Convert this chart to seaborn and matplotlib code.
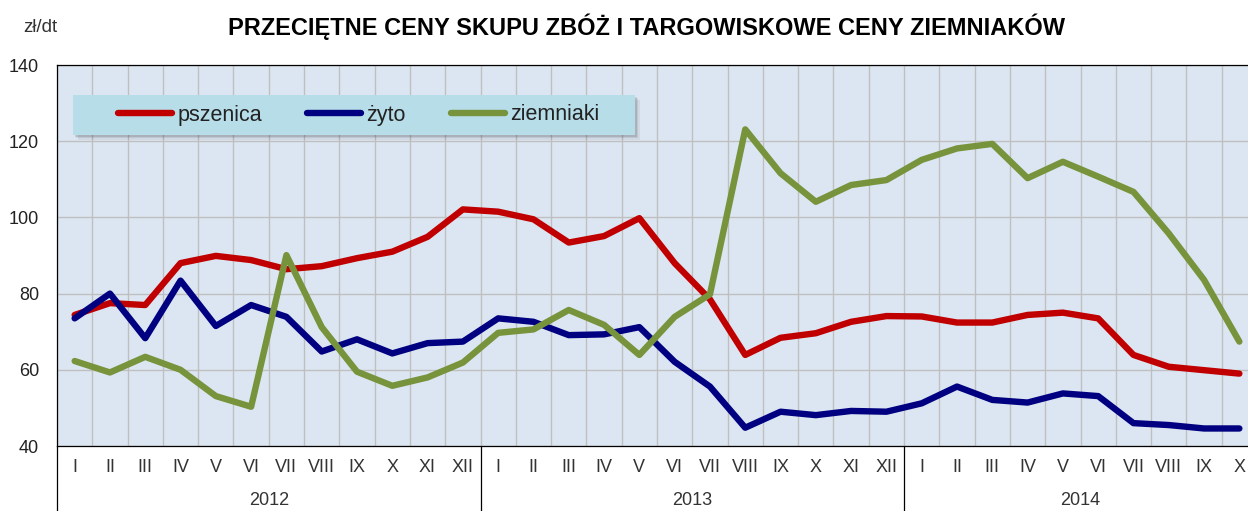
import numpy as np
import pandas as pd
import matplotlib
matplotlib.use("Agg")
import matplotlib.pyplot as plt
import matplotlib.transforms as mtransforms
from matplotlib.patches import Rectangle
from matplotlib.lines import Line2D
import seaborn as sns

# ---------------- data ----------------
months = ["I", "II", "III", "IV", "V", "VI", "VII", "VIII", "IX", "X", "XI", "XII"]
month_labels = months * 2 + months[:10]
years = ["2012", "2013", "2014"]
year_lengths = [12, 12, 10]

pszenica = [74.4, 77.5, 77.0, 88.0, 89.9, 88.8, 86.4, 87.2, 89.3, 91.0, 94.9, 102.1,
            101.5, 99.5, 93.4, 95.1, 99.8, 88.0, 78.5, 63.9, 68.4, 69.6, 72.6, 74.1,
            74.0, 72.4, 72.4, 74.4, 75.0, 73.5, 63.9, 60.8, 59.9, 59.0]
zyto = [73.5, 80.0, 68.3, 83.4, 71.5, 77.0, 73.9, 64.8, 68.0, 64.3, 67.0, 67.4,
        73.5, 72.6, 69.1, 69.3, 71.2, 62.1, 55.6, 44.8, 49.0, 48.1, 49.2, 49.0,
        51.2, 55.6, 52.1, 51.4, 53.8, 53.1, 46.0, 45.5, 44.6, 44.6]
ziemniaki = [62.3, 59.3, 63.4, 60.0, 53.1, 50.3, 90.1, 71.2, 59.5, 55.8, 58.0, 61.9,
             69.7, 70.6, 75.7, 71.8, 63.9, 73.9, 79.8, 123.1, 111.6, 104.1, 108.5, 109.8,
             115.1, 118.1, 119.3, 110.3, 114.6, 110.7, 106.7, 95.8, 83.6, 67.4]
series_names = ["pszenica", "żyto", "ziemniaki"]
colors = ["#C00000", "#000080", "#77933C"]
y_ticks = [40, 60, 80, 100, 120, 140]

n = len(month_labels)
idx = np.arange(n)
df = pd.DataFrame({
    "t": np.tile(idx, 3),
    "value": pszenica + zyto + ziemniaki,
    "series": np.repeat(series_names, n),
})

# ---------------- figure ----------------
sns.set_style("white")
plt.rcParams["font.family"] = ["Liberation Sans", "DejaVu Sans"]

W, H = 1248, 511
fig = plt.figure(figsize=(W / 100, H / 100), dpi=100)
left_px, right_px, top_px, bottom_px = 57, 1257, 65, 446
ax = fig.add_axes([left_px / W, (H - bottom_px) / H,
                   (right_px - left_px) / W, (bottom_px - top_px) / H])
ax.set_facecolor("#DCE6F2")

LW = 4.6
sns.lineplot(data=df, x="t", y="value", hue="series", palette=colors,
             hue_order=series_names, linewidth=LW, ax=ax, legend=False,
             solid_capstyle="round", solid_joinstyle="round", zorder=3)

ax.set_xlim(-0.5, n - 0.5)
ax.set_ylim(40, 140)
ax.set_xlabel("")
ax.set_ylabel("")

# grid
ax.set_xticks(np.arange(-0.5, n, 1.0))
ax.set_xticklabels([])
ax.tick_params(axis="x", length=24.5, width=0.8, color="black", direction="out")
ax.set_yticks(y_ticks)
ax.set_yticklabels([str(v) for v in y_ticks], fontsize=13, color="#222222")
ax.tick_params(axis="y", length=0, pad=13)
ax.grid(True, color="#BFBFBF", linewidth=1.0, zorder=0)
ax.set_axisbelow(True)
for s in ["top", "bottom", "left", "right"]:
    ax.spines[s].set_color("black")
    ax.spines[s].set_linewidth(0.9)

# month labels and year labels
trans = mtransforms.blended_transform_factory(ax.transData, ax.transAxes)
axis_h = bottom_px - top_px
for i, lab in enumerate(month_labels):
    ax.text(i, -(467 - bottom_px) / axis_h, lab, transform=trans, ha="center",
            va="center", fontsize=13, color="#333333")
start = 0
for yr, ln in zip(years, year_lengths):
    ax.text(start + ln / 2 - 0.5, -(500 - bottom_px) / axis_h, yr, transform=trans,
            ha="center", va="center", fontsize=13, color="#333333")
    ax.axvline(start - 0.5, ymin=-(H - bottom_px) / axis_h, ymax=0, color="black",
               linewidth=0.9, clip_on=False)
    start += ln

# unit label and title
fig.text(40 / W, 1 - 27 / H, "zł/dt", ha="center", va="center", fontsize=13.5, color="#333333")
fig.text(647 / W, 1 - 27 / H, "PRZECIĘTNE CENY SKUPU ZBÓŻ I TARGOWISKOWE CENY ZIEMNIAKÓW",
         ha="center", va="center", fontsize=17, fontweight="bold", color="black")

# legend box with shadow
lx0, lx1, ly0, ly1 = 73, 635, 95, 135
def ax_coords(px, py):
    return (px - left_px) / (right_px - left_px), (bottom_px - py) / axis_h
bx, by = ax_coords(lx0, ly1)
bw = (lx1 - lx0) / (right_px - left_px)
bh = (ly1 - ly0) / axis_h
for k, a in enumerate([0.10, 0.08, 0.06]):
    off = (k + 1) * 1.6
    ax.add_patch(Rectangle((bx + off / 1200, by - off / axis_h), bw, bh,
                           transform=ax.transAxes, facecolor="black", alpha=a,
                           edgecolor="none", zorder=4))
ax.add_patch(Rectangle((bx, by), bw, bh, transform=ax.transAxes,
                       facecolor="#B7DDE8", edgecolor="none", zorder=5))

handles = [Line2D([0], [0], color=c, linewidth=LW, solid_capstyle="round") for c in colors]
lx, ly = ax_coords(118, 115)
leg = ax.legend(handles, series_names, loc="center left", bbox_to_anchor=(lx, ly),
                ncol=3, frameon=False, fontsize=15.5, handlelength=2.5,
                handletextpad=0.25, columnspacing=2.1, borderpad=0, borderaxespad=0)
leg.set_zorder(6)
for t in leg.get_texts():
    t.set_color("#222222")

fig.savefig("out.png", dpi=100)
